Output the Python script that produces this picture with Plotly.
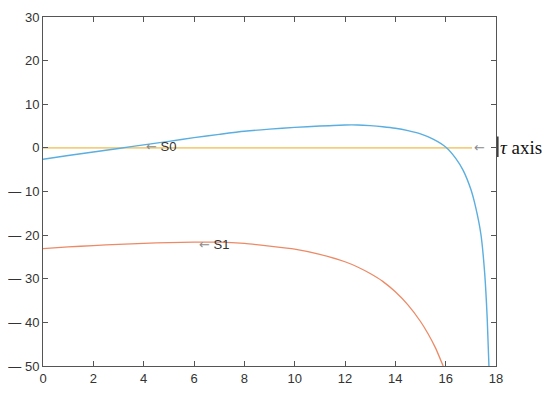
import plotly.graph_objects as go

# S0 curve (blue)
s0_x = [0, 1, 2, 3, 4, 5, 6, 7, 8, 9, 10, 11, 12, 12.5, 13, 13.5, 14, 14.5, 15, 15.5,
        16, 16.4, 16.7, 17.0, 17.2, 17.4, 17.55, 17.65, 17.72]
s0_y = [-2.6, -1.75, -0.95, -0.15, 0.7, 1.5, 2.35, 3.1, 3.8, 4.3, 4.7, 5.0, 5.25, 5.25, 5.1,
        4.85, 4.5, 3.95, 3.2, 2.0, 0.2, -2.4, -5.2, -9.5, -13.8, -19.8, -28.7, -39, -50]

# S1 curve (orange)
s1_x = [0, 1, 2, 3, 4, 5, 6, 7, 8, 9, 10, 11, 12, 12.5, 13, 13.5, 14, 14.5, 15, 15.3,
        15.6, 15.9]
s1_y = [-23.1, -22.7, -22.4, -22.1, -21.9, -21.7, -21.6, -21.6, -21.9, -22.5, -23.2, -24.4,
        -26.1, -27.3, -28.8, -30.6, -33.0, -36.0, -39.8, -42.6, -45.9, -50]

# tau axis (yellow)
tau_x = [0, 17.05]
tau_y = [0, 0]

x_ticks = [0, 2, 4, 6, 8, 10, 12, 14, 16, 18]
y_ticks = [-50, -40, -30, -20, -10, 0, 10, 20, 30]
y_ticktext = ["— 50", "— 40", "— 30", "— 20", "— 10", "0", "10", "20", "30"]

AXIS = "#555555"
TXT = "#333333"
ARROW = "#8c8c8c"
arrow_span = f"<span style='font-family:DejaVu Sans;color:{ARROW}'>←</span>"

fig = go.Figure()
fig.add_trace(go.Scatter(x=tau_x, y=tau_y, mode="lines",
                         line=dict(color="#F4CE7C", width=1.6)))
fig.add_trace(go.Scatter(x=s0_x, y=s0_y, mode="lines",
                         line=dict(color="#5AAEE0", width=1.4, shape="spline", smoothing=0.6)))
fig.add_trace(go.Scatter(x=s1_x, y=s1_y, mode="lines",
                         line=dict(color="#EC8A66", width=1.3, shape="spline", smoothing=0.6)))

lab_font = dict(family="Arial, Liberation Sans, sans-serif", size=13, color=TXT)
fig.add_annotation(x=4.0, y=0.4, xanchor="left", yanchor="middle", showarrow=False,
                   text=f"{arrow_span} S0", font=lab_font)
fig.add_annotation(x=6.1, y=-22.1, xanchor="left", yanchor="middle", showarrow=False,
                   text=f"{arrow_span} S1", font=lab_font)
fig.add_annotation(x=17.05, y=0, xanchor="left", yanchor="middle", showarrow=False,
                   text=arrow_span, font=dict(size=13))
fig.add_annotation(x=1.005, xref="paper", y=0, xanchor="left", yanchor="middle",
                   showarrow=False, text="<i>τ</i> axis",
                   font=dict(family="Liberation Serif, Times New Roman, serif", size=19,
                             color="#111111"))
fig.add_shape(type="line", xref="paper", x0=1.004, x1=1.004, y0=2.6, y1=-2.1,
              line=dict(color="#333333", width=1.5))

fig.update_xaxes(range=[0, 18], tickvals=x_ticks, ticks="inside", ticklen=5,
                 tickcolor=AXIS, showline=True, linecolor=AXIS, linewidth=1,
                 mirror="ticks", showgrid=False, zeroline=False, tickfont=lab_font,
                 automargin=False)
fig.update_yaxes(range=[-50, 30], tickvals=y_ticks, ticktext=y_ticktext, ticks="inside",
                 ticklen=5, tickcolor=AXIS, showline=True, linecolor=AXIS, linewidth=1,
                 mirror="ticks", showgrid=False, zeroline=False, tickfont=lab_font,
                 automargin=False)

# page body adds 8px margin on every side; keep the figure small enough
# that the page does not overflow the window (no scrollbars)
fig.update_layout(width=534, height=380, showlegend=False,
                  margin=dict(l=35, r=46, t=9, b=22),
                  plot_bgcolor="white", paper_bgcolor="white")

fig.write_html("out.html")
